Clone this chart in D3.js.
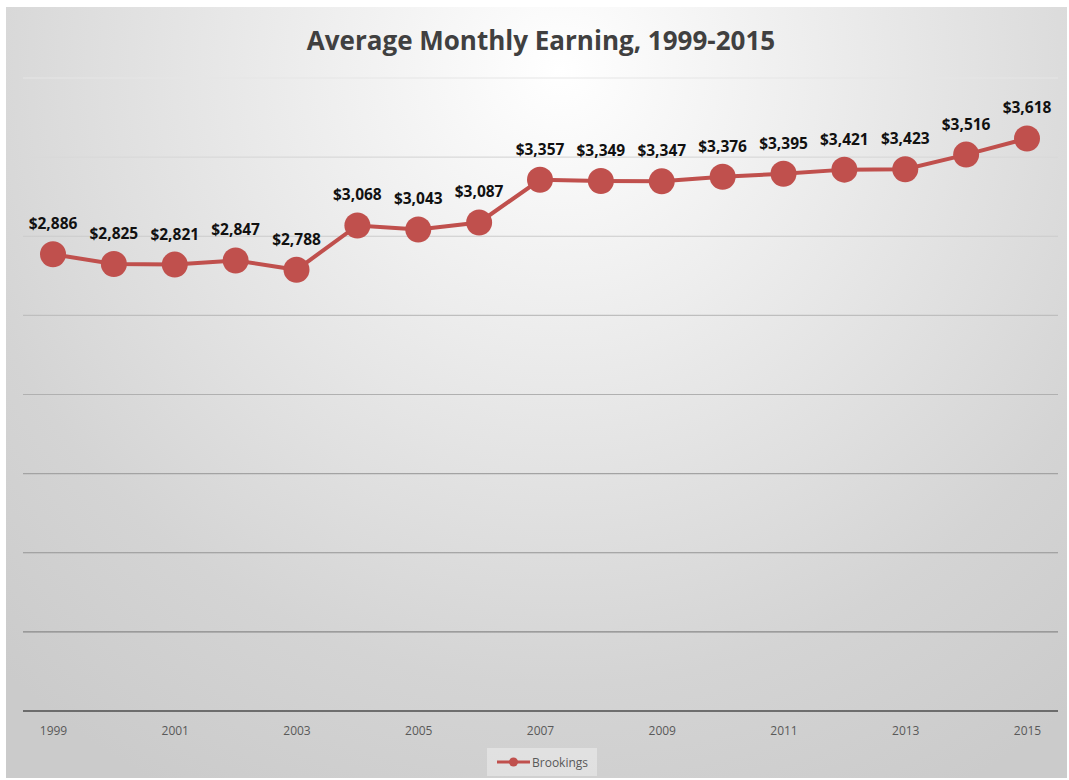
<!DOCTYPE html>
<html>
  <head>
    <title>Average Monthly Earning</title>
    <script src="https://d3js.org/d3.v7.min.js"></script>
    <style>
      body { margin: 0; background: #fff; }
    </style>
  </head>
  <body>
    <svg width="1069" height="780"></svg>
    <script type="text/javascript">
      // data
      var years = [1999, 2000, 2001, 2002, 2003, 2004, 2005, 2006, 2007, 2008, 2009, 2010, 2011, 2012, 2013, 2014, 2015];
      var earnings = [2886, 2825, 2821, 2847, 2788, 3068, 3043, 3087, 3357, 3349, 3347, 3376, 3395, 3421, 3423, 3516, 3618];
      var gridValues = [500, 1000, 1500, 2000, 2500, 3000, 3500, 4000];
      var tickYears = [1999, 2001, 2003, 2005, 2007, 2009, 2011, 2013, 2015];
      var seriesName = "Brookings";

      var red = "#c0504d";
      var font = "'Open Sans', 'DejaVu Sans', sans-serif";

      var svg = d3.select("svg");

      // background gradient
      var defs = svg.append("defs");
      var grad = defs.append("radialGradient")
        .attr("id", "bg")
        .attr("gradientUnits", "userSpaceOnUse")
        .attr("cx", 560).attr("cy", 70).attr("r", 820);
      grad.append("stop").attr("offset", "0%").attr("stop-color", "#ffffff");
      grad.append("stop").attr("offset", "75%").attr("stop-color", "#d4d4d4");
      grad.append("stop").attr("offset", "100%").attr("stop-color", "#cbcbcb");

      svg.append("rect")
        .attr("x", 6).attr("y", 7)
        .attr("width", 1061).attr("height", 771)
        .attr("fill", "url(#bg)");

      var x = d3.scaleLinear().domain([1999, 2015]).range([53, 1027]);
      var y = d3.scaleLinear().domain([0, 4000]).range([711, 78]);

      var gridColor = d3.scaleLinear().domain([78, 711]).range(["#e6e6e6", "#7a7a7a"]);

      // gridlines
      svg.append("g")
        .selectAll("line")
        .data(gridValues)
        .enter()
        .append("line")
          .attr("x1", 23).attr("x2", 1058)
          .attr("y1", function(d) { return y(d); })
          .attr("y2", function(d) { return y(d); })
          .attr("stroke", function(d) { return gridColor(y(d)); })
          .attr("stroke-width", 1.2);

      // x axis
      var xAxis = svg.append("g")
        .attr("transform", "translate(0," + y(0) + ")")
        .call(d3.axisBottom(x).tickValues(tickYears).tickFormat(d3.format("d")).tickSize(0).tickPadding(15));
      xAxis.select(".domain").remove();
      xAxis.append("line")
        .attr("x1", 23).attr("x2", 1058)
        .attr("stroke", "#4d4d4d").attr("stroke-width", 1.6);
      xAxis.selectAll("text")
        .attr("fill", "#595959")
        .style("font-family", font)
        .style("font-size", "12px");

      // line
      var line = d3.line()
        .x(function(d, i) { return x(years[i]); })
        .y(function(d) { return y(d); });

      svg.append("path")
        .datum(earnings)
        .attr("d", line)
        .attr("fill", "none")
        .attr("stroke", red)
        .attr("stroke-width", 4);

      svg.append("g")
        .selectAll("circle")
        .data(earnings)
        .enter()
        .append("circle")
          .attr("cx", function(d, i) { return x(years[i]); })
          .attr("cy", function(d) { return y(d); })
          .attr("r", 13)
          .attr("fill", red);

      // labels
      svg.append("g")
        .selectAll("text")
        .data(earnings)
        .enter()
        .append("text")
          .attr("x", function(d, i) { return x(years[i]); })
          .attr("y", function(d) { return y(d) - 25; })
          .attr("text-anchor", "middle")
          .style("font-family", font)
          .style("font-size", "15.5px")
          .style("font-weight", "bold")
          .attr("fill", "#111")
          .text(function(d) { return d3.format("$,")(d); });

      // title
      svg.append("text")
        .attr("x", 541).attr("y", 50)
        .attr("text-anchor", "middle")
        .style("font-family", font)
        .style("font-size", "26px")
        .style("font-weight", "bold")
        .attr("fill", "#404040")
        .text("Average Monthly Earning, 1999-2015");

      // legend
      var lg = svg.append("g").attr("transform", "translate(487,748)");
      lg.append("rect")
        .attr("width", 110).attr("height", 28)
        .attr("fill", "#ffffff").attr("fill-opacity", 0.35);
      lg.append("line")
        .attr("x1", 10).attr("x2", 43).attr("y1", 14).attr("y2", 14)
        .attr("stroke", red).attr("stroke-width", 3);
      lg.append("circle")
        .attr("cx", 26.5).attr("cy", 14).attr("r", 4.5)
        .attr("fill", red);
      lg.append("text")
        .attr("x", 45).attr("y", 18.5)
        .style("font-family", font)
        .style("font-size", "12px")
        .attr("fill", "#595959")
        .text(seriesName);
    </script>
  </body>
</html>
